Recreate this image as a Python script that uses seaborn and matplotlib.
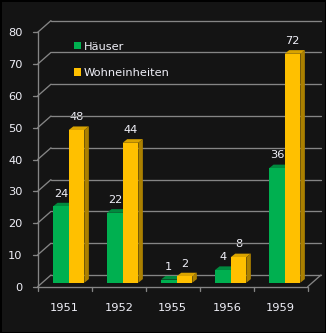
import matplotlib
matplotlib.use("Agg")
import matplotlib.pyplot as plt
import matplotlib.transforms as mtransforms
from matplotlib.patches import Polygon, Patch
from matplotlib.lines import Line2D
import seaborn as sns
import pandas as pd

years = ["1951", "1952", "1955", "1956", "1959"]
haeuser = [24, 22, 1, 4, 36]
wohneinheiten = [48, 44, 2, 8, 72]
series_names = ["Häuser", "Wohneinheiten"]
y_ticks = [0, 10, 20, 30, 40, 50, 60, 70, 80]

front_colors = {"Häuser": "#00b050", "Wohneinheiten": "#ffc000"}
top_colors = {"Häuser": "#008a3e", "Wohneinheiten": "#d9a300"}
side_colors = {"Häuser": "#006f30", "Wohneinheiten": "#ab8000"}

df = pd.DataFrame({
    "Jahr": years * 2,
    "Wert": haeuser + wohneinheiten,
    "Serie": [series_names[0]] * len(years) + [series_names[1]] * len(years),
})

sns.set_theme(style="dark")
plt.rcParams["font.family"] = ["DejaVu Sans"]

W, H = 326, 333
DPI = 100
BG = "#141414"
GRID = "#858585"
TXT = "#f0f0f8"
FS = 8.2

fig = plt.figure(figsize=(W / DPI, H / DPI), dpi=DPI, facecolor=BG)
fig.patch.set_edgecolor("black")
fig.patch.set_linewidth(2.0)

# axes = bar-front plane (pixel geometry)
left_px, right_px = 41.7, 311.7
bot_px, top_px = 282.7, 28.3
ax = fig.add_axes([left_px / W, (H - bot_px) / H, (right_px - left_px) / W, (bot_px - top_px) / H])
ax.set_facecolor("none")

sns.barplot(data=df, x="Jahr", y="Wert", hue="Serie", order=years, hue_order=series_names,
            palette=front_colors, width=0.58, ax=ax, legend=False, saturation=1,
            linewidth=0, zorder=5)
ax.set_xlim(-0.5, len(years) - 0.5)
ax.set_ylim(0, 80)
ax.set_xlabel("")
ax.set_ylabel("")
for s in ax.spines.values():
    s.set_visible(False)
ax.grid(False)

# pixel offsets (display coords: +y is up)
FRONT = (-4.0, -4.0)
BACK = (9.3, 7.7)
DEPTH = (4.5, 3.6)
ident = mtransforms.IdentityTransform()
fig.canvas.draw()

def disp(x, y, off=(0, 0)):
    px, py = ax.transData.transform((x, y))
    return (px + off[0], py + off[1])

def line(p, q, **kw):
    fig.add_artist(Line2D([p[0], q[0]], [p[1], q[1]], transform=ident, color=GRID,
                          lw=0.95, zorder=1, **kw))

x0, x1 = ax.get_xlim()
# walls
for v in y_ticks:
    line(disp(x0, v, BACK), disp(x1, v, BACK))
    line(disp(x0, v, FRONT), disp(x0, v, BACK))
    p = disp(x0, v, FRONT)
    line((p[0] - 4.5, p[1]), p)
line(disp(x0, 0, FRONT), disp(x0, 80, FRONT))
line(disp(x0, 0, FRONT), disp(x1, 0, FRONT))
line(disp(x1, 0, FRONT), disp(x1, 0, BACK))
for i in range(len(years) + 1):
    p = disp(x0 + i, 0, FRONT)
    line(p, (p[0], p[1] - 4.5))

# 3D faces of bars
for bar, serie in zip(list(ax.patches), [s for s in series_names for _ in years]):
    bx, bw, bh = bar.get_x(), bar.get_width(), bar.get_height()
    br = disp(bx + bw, 0)
    tl = disp(bx, bh)
    tr = disp(bx + bw, bh)
    dx, dy = DEPTH
    z = 4 if serie == series_names[0] else 6
    top = Polygon([tl, tr, (tr[0] + dx, tr[1] + dy), (tl[0] + dx, tl[1] + dy)],
                  closed=True, transform=ident, facecolor=top_colors[serie], lw=0, zorder=z)
    side = Polygon([br, tr, (tr[0] + dx, tr[1] + dy), (br[0] + dx, br[1] + dy)],
                   closed=True, transform=ident, facecolor=side_colors[serie], lw=0, zorder=z)
    fig.add_artist(top)
    fig.add_artist(side)
    bar.set_zorder(z + 0.5)
    bar.remove()
    fig.add_artist(bar)
    ax.annotate(f"{int(bh)}", xy=(bx + bw / 2, bh), xytext=(0, 9.2), textcoords="offset points",
                ha="center", va="center", color=TXT, fontsize=FS, zorder=10)

# tick labels
ax.set_yticks(y_ticks)
ax.set_yticklabels([str(v) for v in y_ticks])
ax.tick_params(axis="y", length=0, pad=10.8, labelsize=FS, colors=TXT)
ax.tick_params(axis="x", length=0, pad=11.4, labelsize=FS, colors=TXT)
off = mtransforms.ScaledTranslation(FRONT[0] / DPI, FRONT[1] / DPI, fig.dpi_scale_trans)
for lab in ax.get_yticklabels() + ax.get_xticklabels():
    lab.set_transform(lab.get_transform() + off)

handles = [Patch(facecolor=front_colors[s], edgecolor="none") for s in series_names]
fig.legend(handles, series_names, loc="upper left", bbox_to_anchor=(73.5 / W, 1 - 41.5 / H),
           frameon=False, fontsize=FS, labelcolor=TXT, handlelength=0.62, handleheight=0.62,
           handletextpad=0.3, labelspacing=1.45, borderpad=0, borderaxespad=0)

fig.savefig("out.png", dpi=DPI, facecolor=BG, edgecolor="black")
